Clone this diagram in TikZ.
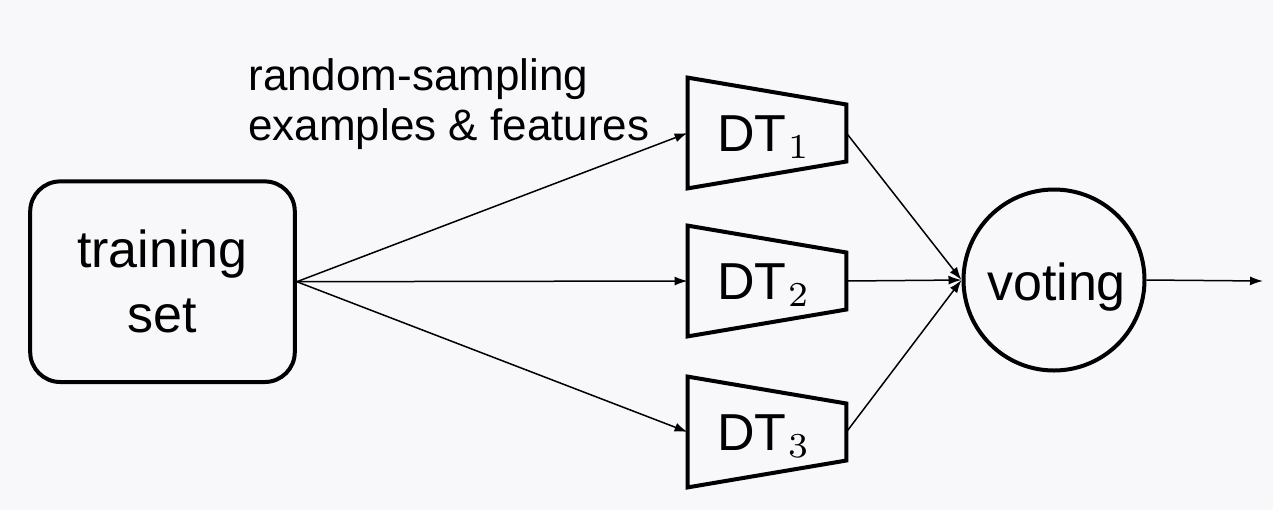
\documentclass[tikz,border=0pt]{standalone}
\usepackage{fontspec}
\newfontfamily\arialA{Liberation Sans}
\newfontfamily\lmrA{lmroman7-regular.otf}
\usetikzlibrary{arrows.meta}
\definecolor{bgcol}{RGB}{248,248,250}
\newcommand{\dtsub}[1]{\kern1pt\raisebox{-3.5pt}{\lmrA\fontsize{17.5}{20}\selectfont #1}}
\begin{document}
\begin{tikzpicture}[x=0.5pt,y=-0.5pt,
  bigtxt/.style={font=\arialA\fontsize{26}{32.5}\selectfont, inner sep=0pt},
  smalltxt/.style={font=\arialA\fontsize{22}{25}\selectfont, inner sep=0pt},
  thick box/.style={draw, line width=2pt},
  dtbox/.style={inner sep=0pt, minimum width=79pt, minimum height=55pt},
  conn/.style={line width=0.75pt, -{Latex[length=6.5pt,width=4.5pt]}}
]
\useasboundingbox[fill=bgcol] (0,0) rectangle (1273,510);

% training set
\node[thick box, rounded corners=15pt, minimum width=132.3pt, minimum height=100.3pt,
      bigtxt, align=center] (train) at (162.5,281.7) {training\\set};

% decision trees
\foreach \i/\y in {1/133,2/281,3/432}{
  \node[dtbox] (dt\i) at (767,\y) {};
  \draw[line width=2pt, line join=miter]
    (dt\i.north west) -- ([yshift=14.25pt]dt\i.east) -- ([yshift=-14.25pt]dt\i.east)
    -- (dt\i.south west) -- cycle;
  \node[bigtxt, anchor=base west] (dt\i t) at (717,\y+18) {DT\dtsub{\i}};
}

% voting
\node[draw, circle, line width=2pt, minimum size=90.5pt, inner sep=0pt] (vote) at (1054,280) {};
\node[bigtxt, anchor=base] (votet) at (1056.5,300) {voting};

% label
\node[smalltxt, align=left, anchor=north west] (lab) at (248,58) {random-sampling\\examples \& features};

% connectors
\draw[conn] (train.east) -- (dt1.west);
\draw[conn] (train.east) -- (dt2.west);
\draw[conn] (train.east) -- (dt3.west);
\draw[conn] (dt1.east) -- (vote.west);
\draw[conn] (dt2.east) -- (vote.west);
\draw[conn] (dt3.east) -- (vote.west);
\coordinate (out) at (1263,281);
\draw[conn] (vote.east) -- (out);
\end{tikzpicture}
\end{document}
